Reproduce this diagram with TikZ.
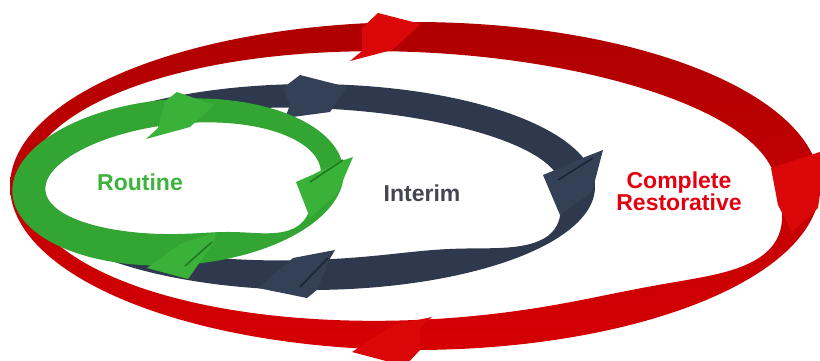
\documentclass[tikz,border=0pt]{standalone}
\usepackage{fontspec}
\setmainfont{Liberation Sans}
\definecolor{rRedTop}{RGB}{172,0,0}
\definecolor{rRedBot}{RGB}{214,0,4}
\definecolor{rRedHead}{RGB}{218,8,8}
\definecolor{rNavy}{RGB}{46,57,77}
\definecolor{rNavyHead}{RGB}{52,64,86}
\definecolor{rNavyDark}{RGB}{28,36,50}
\definecolor{rGreen}{RGB}{50,165,50}
\definecolor{rGreenHead}{RGB}{58,178,58}
\definecolor{rGreenDark}{RGB}{30,120,30}
\definecolor{tGreen}{RGB}{60,180,60}
\definecolor{tGray}{RGB}{70,70,82}
\definecolor{tRed}{RGB}{227,0,15}
\def\rtilt{0}
% ring of varying width: #1 style, #2 cx, #3 cy, #4 a, #5 b, #6 width expression in \t
\newcommand{\RingW}[6]{%
  \fill[#1,even odd rule]
    plot[domain=0:360,samples=200,variable=\t]
      ({#2+#4*cos(\t)*cos(\rtilt)-#5*sin(\t)*sin(\rtilt)},{#3+#4*cos(\t)*sin(\rtilt)+#5*sin(\t)*cos(\rtilt)}) -- cycle
    plot[domain=0:360,samples=200,variable=\t]
      ({#2+(#4-(#6))*cos(\t)*cos(\rtilt)-(#5-(#6))*sin(\t)*sin(\rtilt)},{#3+(#4-(#6))*cos(\t)*sin(\rtilt)+(#5-(#6))*sin(\t)*cos(\rtilt)}) -- cycle;}
\newcommand{\RingClip}[5]{%
  \clip
    plot[domain=0:360,samples=200,variable=\t]
      ({#1+#3*cos(\t)},{#2+#4*sin(\t)}) -- cycle
    plot[domain=0:360,samples=200,variable=\t]
      ({#1+(#3-(#5))*cos(\t)},{#2+(#4-(#5))*sin(\t)}) -- cycle;}
\tikzset{
  redhead/.style={fill=rRedHead},
  navyrib/.style={fill=rNavy},
  navyhead/.style={fill=rNavyHead},
  navycrease/.style={draw=rNavyDark,line width=1.6pt},
  greenrib/.style={fill=rGreen},
  greenhead/.style={fill=rGreenHead},
  greencrease/.style={draw=rGreenDark,line width=1.6pt},
  lbl/.style={font=\fontsize{23}{23}\selectfont\bfseries,inner sep=0pt,anchor=base}
}
\begin{document}
\begin{tikzpicture}[x=1pt,y=-1pt]
\useasboundingbox (0,0) rectangle (820,360);
\clip (0,0) rectangle (820,360);
% red ring
\begin{scope}[even odd rule]
  \RingClip{415}{186}{405}{164}{30+15*cos(\t)-30*((1+cos(\t-27))/2)^40}
  \shade[top color=rRedTop,bottom color=rRedBot] (0,0) rectangle (820,360);
\end{scope}
\fill[redhead] (378,13) -- (421,24) -- (392,50) -- (350,61) -- (362,51) -- (362,28) -- cycle;
\fill[redhead] (771,168) -- (826,150) -- (818,208) -- (792,232) -- (778,205) -- cycle;
\fill[redhead] (432,317) -- (393,325) -- (352,352) -- (405,366) -- (420,350) -- (420,328) -- cycle;
% navy ring
\def\rtilt{0}
\RingW{navyrib}{310}{187}{285}{103}{27+8*cos(\t)+3*sin(\t)-28*((1+cos(\t-33))/2)^40}
\fill[navyhead] (300,75) -- (347,87) -- (330,112) -- (285,118) -- (290,105) -- (283,88) -- cycle;
\fill[navyhead] (603,150) -- (592,192) -- (560,215) -- (543,175) -- (560,168) -- (585,157) -- cycle;
\draw[navycrease] (558,180) -- (593,158);
\fill[navyhead] (335,250) -- (293,258) -- (258,288) -- (307,298) -- (318,289) -- (328,262) -- cycle;
\draw[navycrease] (328,258) -- (300,287);
% green ring
\def\rtilt{-4}
\RingW{greenrib}{178}{182}{166}{83}{28+6*cos(\t-150)-20*((1+cos(\t-45))/2)^40}
\fill[greenhead] (177,92) -- (214,105) -- (190,127) -- (146,139) -- (158,128) -- (165,101) -- cycle;
\fill[greenhead] (353,157) -- (338,192) -- (310,218) -- (296,182) -- (312,175) -- (338,162) -- cycle;
\draw[greencrease] (310,182) -- (343,160);
\fill[greenhead] (217,232) -- (180,244) -- (147,268) -- (188,279) -- (200,262) -- (212,245) -- cycle;
\draw[greencrease] (212,242) -- (185,266);
% labels
\node[lbl,text=tGreen] (routine) at (140,190) {Routine};
\node[lbl,text=tGray] (interim) at (422,201) {Interim};
\node[lbl,text=tRed] (complete) at (679,188.5) {Complete};
\node[lbl,text=tRed] (restorative) at (679,210) {Restorative};
\end{tikzpicture}
\end{document}
